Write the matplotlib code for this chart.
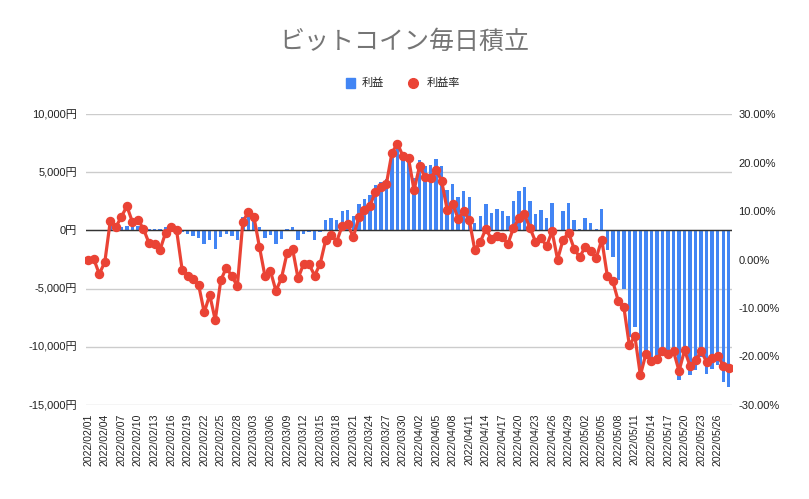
import matplotlib
matplotlib.use("Agg")
import matplotlib.pyplot as plt
from matplotlib.ticker import FuncFormatter, MultipleLocator
import pandas as pd

plt.rcParams['font.family'] = ['Liberation Sans', 'Noto Sans CJK JP', 'DejaVu Sans']

# daily dates 2022/02/01 .. 2022/05/28
dates = pd.date_range("2022-02-01", "2022-05-28", freq="D")
date_labels = [d.strftime("%Y/%m/%d") for d in dates]

# profit (yen), bars on the left axis
profit = [
    0, 0, -60, -10, 350, 290, 290, 400, 300, 350,
    140, 100, 90, 80, 300, 430, 400, -140, -340, -460,
    -630, -1145, -860, -1630, -570, -290, -515, -860, 1145, 1430,
    1120, 320, -630, -430, -1200, -745, 115, 290, -800, -290,
    -170, -800, -170, 860, 1090, 860, 1630, 1775, 1200, 2230,
    2660, 3000, 3865, 4150, 4440, 6500, 7300, 6440, 6300, 4500,
    6070, 5500, 5580, 6160, 5500, 3440, 4010, 2860, 3380, 2860,
    660, 1260, 2290, 1520, 1860, 1690, 1230, 2490, 3410, 3720,
    2520, 1430, 1770, 1090, 2350, 0, 1660, 2350, 920, 140,
    1060, 630, 140, 1830, -1660, -2290, -4240, -5010, -9200, -8300,
    -12500, -10880, -11450, -11170, -10590, -10880, -10740, -12830, -10590, -12460,
    -11970, -10880, -12310, -11880, -11600, -13030, -13460,
]

# profit rate (%), line on the right axis
rate = [
    0.0, 0.1, -3.0, -0.5, 8.0, 6.7, 8.8, 11.0, 7.7, 8.2,
    6.3, 3.4, 3.2, 2.0, 5.5, 6.6, 6.0, -2.1, -3.3, -4.0,
    -5.3, -10.9, -7.3, -12.5, -4.3, -1.7, -3.4, -5.5, 7.8, 9.8,
    8.8, 2.6, -3.4, -2.4, -6.5, -3.8, 1.3, 2.2, -3.9, -0.9,
    -1.0, -3.3, -0.9, 4.0, 5.1, 3.7, 7.0, 7.3, 4.6, 8.7,
    10.2, 11.0, 14.0, 15.0, 15.6, 22.0, 23.9, 21.3, 20.9, 14.3,
    19.2, 17.0, 16.8, 18.5, 16.2, 10.3, 11.5, 8.4, 9.9, 8.2,
    2.0, 3.6, 6.3, 4.3, 4.9, 4.6, 3.2, 6.5, 8.5, 9.3,
    6.5, 3.7, 4.5, 2.7, 5.8, 0.0, 4.1, 5.5, 2.2, 0.5,
    2.6, 1.7, 0.3, 4.1, -3.3, -4.5, -8.6, -9.8, -17.7, -15.8,
    -23.9, -19.4, -21.0, -20.5, -18.9, -19.4, -18.9, -23.0, -18.7, -22.0,
    -20.8, -18.9, -21.1, -20.3, -19.8, -21.9, -22.3,
]

BLUE = "#4285F4"
RED = "#EA4335"
x = list(range(len(dates)))

fig = plt.figure(figsize=(8.09, 4.99), dpi=100)
ax = fig.add_axes([85.5 / 809, 1 - 405 / 499, (731.5 - 85.5) / 809, (405 - 114) / 499])
ax2 = ax.twinx()

ax.bar(x, profit, width=0.62, color=BLUE, zorder=2)
ax.axhline(0, color="#333333", lw=1, zorder=3)
ax.set_ylim(-15000, 10000)
ax.yaxis.set_major_locator(MultipleLocator(5000))
ax.yaxis.set_major_formatter(FuncFormatter(lambda v, p: f"{int(v):,}円"))
ax.grid(axis="y", color="#cccccc", lw=1, zorder=0)
ax.set_axisbelow(True)

ax2.plot(x, rate, color=RED, lw=2.3, marker="o", markersize=5.8, zorder=4)
ax2.set_ylim(-30, 30)
ax2.yaxis.set_major_locator(MultipleLocator(10))
ax2.yaxis.set_major_formatter(FuncFormatter(lambda v, p: f"{v:.2f}%"))

ax.set_xlim(-0.5, len(dates) - 0.5)
ax.set_xticks(x[::3])
ax.set_xticklabels(date_labels[::3], rotation=90, fontsize=7.6, color="#222222")

for a in (ax, ax2):
    for s in a.spines.values():
        s.set_visible(False)
    a.tick_params(length=0)
ax.tick_params(axis="y", labelsize=8, colors="#222222", pad=6)
ax2.tick_params(axis="y", labelsize=8, colors="#222222", pad=5)
ax.tick_params(axis="x", pad=6)

fig.text(0.5, 1 - 42 / 499, "ビットコイン毎日積立", ha="center", va="center",
         fontsize=18, color="#757575", family=["Noto Sans CJK JP"])

# legend
ly = 1 - 83 / 499
fig.patches.append(plt.Rectangle((346 / 809, ly - 4.5 / 499), 9 / 809, 9 / 499,
                                 color=BLUE, transform=fig.transFigure, figure=fig))
fig.text(362 / 809, ly, "利益", va="center", fontsize=8, color="#222222",
         family=["Noto Sans CJK JP"])
fig.add_artist(plt.Line2D([413 / 809], [ly], marker="o", markersize=7, color=RED,
                          transform=fig.transFigure))
fig.text(427 / 809, ly, "利益率", va="center", fontsize=8, color="#222222",
         family=["Noto Sans CJK JP"])

fig.savefig("out.png", dpi=100)
